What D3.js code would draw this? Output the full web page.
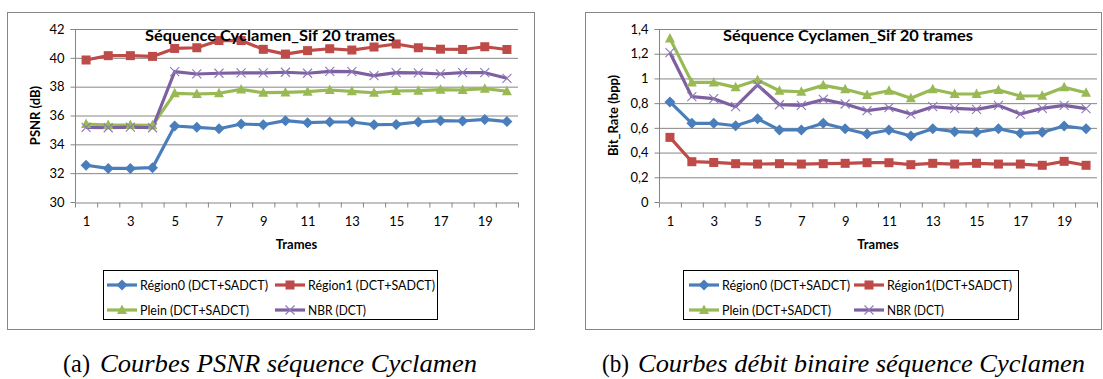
<!DOCTYPE html>
<html><head><meta charset="utf-8">
<script src="https://cdn.jsdelivr.net/npm/d3@7"></script>
<style>
body{margin:0;background:#fff;}
svg{display:block;}
</style></head>
<body>
<svg id="c" width="1103" height="379"></svg>
<script>
// ---------- DATA ----------
const frames = [1,2,3,4,5,6,7,8,9,10,11,12,13,14,15,16,17,18,19,20];
const frameLabels = [1,3,5,7,9,11,13,15,17,19];
const seriesNames = ["Région0 (DCT+SADCT)","Région1 (DCT+SADCT)","Plein (DCT+SADCT)","NBR (DCT)"];
const seriesNamesB = ["Région0 (DCT+SADCT)","Région1(DCT+SADCT)","Plein (DCT+SADCT)","NBR (DCT)"];

const psnrRegion0 = [32.55,32.33,32.33,32.38,35.27,35.18,35.08,35.41,35.36,35.64,35.5,35.55,35.55,35.36,35.38,35.55,35.64,35.62,35.73,35.58];
const psnrRegion1 = [39.85,40.15,40.15,40.1,40.65,40.7,41.2,41.2,40.59,40.26,40.5,40.63,40.54,40.75,40.96,40.7,40.6,40.58,40.77,40.58];
const psnrPlein   = [35.41,35.34,35.34,35.32,37.54,37.49,37.54,37.81,37.58,37.6,37.65,37.77,37.68,37.58,37.7,37.72,37.79,37.77,37.86,37.68];
const psnrNBR     = [35.18,35.15,35.2,35.15,39.04,38.88,38.93,38.95,38.95,39.0,38.93,39.06,39.04,38.76,38.97,38.95,38.88,38.97,38.97,38.58];
const psnrTicks = [30,32,34,36,38,40,42];
const psnrTickLabels = ["30","32","34","36","38","40","42"];

const rateRegion0 = [0.81,0.637,0.637,0.617,0.674,0.583,0.583,0.637,0.593,0.55,0.583,0.534,0.593,0.569,0.564,0.593,0.556,0.564,0.615,0.593];
const rateRegion1 = [0.523,0.326,0.32,0.31,0.307,0.31,0.307,0.31,0.313,0.318,0.318,0.302,0.313,0.307,0.313,0.307,0.307,0.297,0.329,0.297];
const ratePlein   = [1.324,0.968,0.968,0.928,0.987,0.9,0.892,0.944,0.912,0.866,0.9,0.839,0.912,0.874,0.874,0.906,0.858,0.86,0.928,0.884];
const rateNBR     = [1.208,0.852,0.836,0.771,0.947,0.787,0.782,0.83,0.793,0.739,0.763,0.712,0.771,0.758,0.75,0.782,0.712,0.758,0.782,0.755];
const rateTicks = [0,0.2,0.4,0.6,0.8,1,1.2,1.4];
const rateTickLabels = ["0","0,2","0,4","0,6","0,8","1","1,2","1,4"];

const chartTitle = "Séquence Cyclamen_Sif 20 trames";
const captionA = ["(a)","Courbes PSNR séquence Cyclamen"];
const captionB = ["(b)","Courbes débit binaire séquence Cyclamen"];

// ---------- STYLE ----------
const colors = ["#4A7EBB","#BE4B48","#98B954","#7D60A0"];
const markers = ["diamond","square","triangle","cross"];
const FONT = "Lato, 'Open Sans', sans-serif";
const axisGray = "#868686";

const svg = d3.select("#c");

function marker(g, type, cx, cy, color){
  if(type==="diamond"){
    g.append("path").attr("d",`M${cx},${cy-5.5}L${cx+5.5},${cy}L${cx},${cy+5.5}L${cx-5.5},${cy}Z`).attr("fill",color);
  } else if(type==="square"){
    g.append("rect").attr("x",cx-4.5).attr("y",cy-4.5).attr("width",9).attr("height",9).attr("fill",color);
  } else if(type==="triangle"){
    g.append("path").attr("d",`M${cx},${cy-5.5}L${cx+5},${cy+4}L${cx-5},${cy+4}Z`).attr("fill",color);
  } else {
    g.append("path").attr("d",`M${cx-4.5},${cy-4.5}L${cx+4.5},${cy+4.5}M${cx-4.5},${cy+4.5}L${cx+4.5},${cy-4.5}`)
      .attr("stroke","#8E78B8").attr("stroke-width",1.1).attr("fill","none");
  }
}

function fitText(sel, width){
  sel.attr("textLength",width).attr("lengthAdjust","spacingAndGlyphs");
}

function drawChart(cfg){
  const g = svg.append("g");
  g.append("rect").attr("x",cfg.frame[0]+0.5).attr("y",cfg.frame[1]+0.5)
    .attr("width",cfg.frame[2]-cfg.frame[0]).attr("height",cfg.frame[3]-cfg.frame[1])
    .attr("fill","#fff").attr("stroke",axisGray).attr("stroke-width",1);

  const x = d3.scaleLinear().domain([0.5,20.5]).range([cfg.left,cfg.right]);
  const y = d3.scaleLinear().domain([cfg.ticks[0],cfg.ticks[cfg.ticks.length-1]]).range([cfg.bottom,cfg.top]);

  g.append("g").attr("transform",`translate(${cfg.left},0)`)
    .call(d3.axisLeft(y).tickValues(cfg.ticks.slice(1)).tickSize(-(cfg.right-cfg.left)).tickFormat(""))
    .call(s=>{s.select(".domain").remove(); s.selectAll("line").attr("stroke",axisGray).attr("stroke-width",1);});

  const ya = g.append("g").attr("transform",`translate(${cfg.left+0.5},0)`)
    .call(d3.axisLeft(y).tickValues(cfg.ticks).tickSize(5).tickPadding(6).tickFormat((d,i)=>cfg.tickLabels[i]));
  ya.select(".domain").attr("stroke",axisGray).attr("d",`M-5,${cfg.top+0.5}H0V${cfg.bottom}`);
  ya.selectAll("line").attr("stroke",axisGray);
  ya.selectAll("text").attr("font-family",FONT).attr("font-size",13).attr("fill","#000");

  const bounds = d3.range(0,21).map(i=>i+0.5);
  const xa = g.append("g").attr("transform",`translate(0,${cfg.bottom+0.5})`)
    .call(d3.axisBottom(x).tickValues(bounds).tickSize(5).tickSizeOuter(0).tickFormat(""));
  xa.select(".domain").attr("stroke",axisGray);
  xa.selectAll("line").attr("stroke",axisGray);
  const xl = g.append("g").attr("transform",`translate(0,${cfg.bottom+0.5})`)
    .call(d3.axisBottom(x).tickValues(frameLabels).tickSize(0).tickPadding(14));
  xl.select(".domain").remove();
  xl.selectAll("text").attr("font-family",FONT).attr("font-size",13).attr("fill","#000");

  g.append("text").attr("x",(cfg.left+cfg.right)/2).attr("y",cfg.bottom+47)
    .attr("text-anchor","middle").attr("font-family",FONT).attr("font-weight","bold").attr("font-size",13).text("Trames");
  g.append("text").attr("transform",`translate(${cfg.ylabelX},${(cfg.top+cfg.bottom)/2}) rotate(-90)`)
    .attr("text-anchor","middle").attr("font-family",FONT).attr("font-weight","bold").attr("font-size",13).text(cfg.ylabel);

  cfg.series.forEach((vals,si)=>{
    const line = d3.line().x((d,i)=>x(frames[i])).y(d=>y(d));
    g.append("path").datum(vals).attr("d",line).attr("fill","none")
      .attr("stroke",colors[si]).attr("stroke-width",3.2).attr("stroke-linejoin","round");
  });
  cfg.series.forEach((vals,si)=>{
    const mg = g.append("g");
    vals.forEach((v,i)=>marker(mg,markers[si],x(frames[i]),y(v),colors[si]));
  });

  const t = g.append("text").attr("x",cfg.titleX).attr("y",cfg.top+12)
    .attr("font-family",FONT).attr("font-weight","bold").attr("font-size",16)
    .text(chartTitle);
  fitText(t, 250);

  const L = cfg.legend;
  g.append("rect").attr("x",L.x+0.5).attr("y",L.y+0.5).attr("width",L.w).attr("height",L.h)
    .attr("fill","#fff").attr("stroke","#000").attr("stroke-width",1);
  cfg.names.forEach((n,i)=>{
    const col = i%2, row = Math.floor(i/2);
    const lx = L.lineX[col];
    const ly = L.rowY[row];
    g.append("line").attr("x1",lx).attr("x2",lx+L.lineW).attr("y1",ly).attr("y2",ly)
      .attr("stroke",colors[i]).attr("stroke-width",3.2);
    marker(g,markers[i],lx+L.lineW/2,ly,colors[i]);
    const tx = g.append("text").attr("x",lx+L.lineW+3).attr("y",ly+4.5).attr("font-family",FONT).attr("font-size",13.5)
      .attr("fill","#000").text(n);
    fitText(tx, L.textW[i]);
  });
}

drawChart({
  frame:[7,12,534,329], left:75, right:518, top:29, bottom:202,
  ticks:psnrTicks, tickLabels:psnrTickLabels, ylabel:"PSNR (dB)", ylabelX:40, titleX:145,
  series:[psnrRegion0,psnrRegion1,psnrPlein,psnrNBR], names:seriesNames,
  legend:{x:103,y:270,w:334,h:49,lineX:[107,275],lineW:30,rowY:[285,310],textW:[128,127,109,58]}
});
drawChart({
  frame:[585,12,1101,329], left:659, right:1097, top:29, bottom:202,
  ticks:rateTicks, tickLabels:rateTickLabels, ylabel:"Bit_Rate (bpp)", ylabelX:618, titleX:723,
  series:[rateRegion0,rateRegion1,ratePlein,rateNBR], names:seriesNamesB,
  legend:{x:683,y:270,w:335,h:49,lineX:[689,854],lineW:30,rowY:[285,310],textW:[128,125,109,57]}
});

function caption(x0, parts, w0, x1, w1){
  const a = svg.append("text").attr("x",x0).attr("y",372)
    .attr("font-family","'Liberation Serif', serif").attr("font-size",25).attr("fill","#000").text(parts[0]);
  fitText(a, w0);
  const b = svg.append("text").attr("x",x1).attr("y",372)
    .attr("font-family","'Liberation Serif', serif").attr("font-style","italic").attr("font-size",25).attr("fill","#000").text(parts[1]);
  fitText(b, w1);
}
caption(63, captionA, 27, 100, 377);
caption(602, captionB, 27, 638, 447);
</script>
</body></html>
